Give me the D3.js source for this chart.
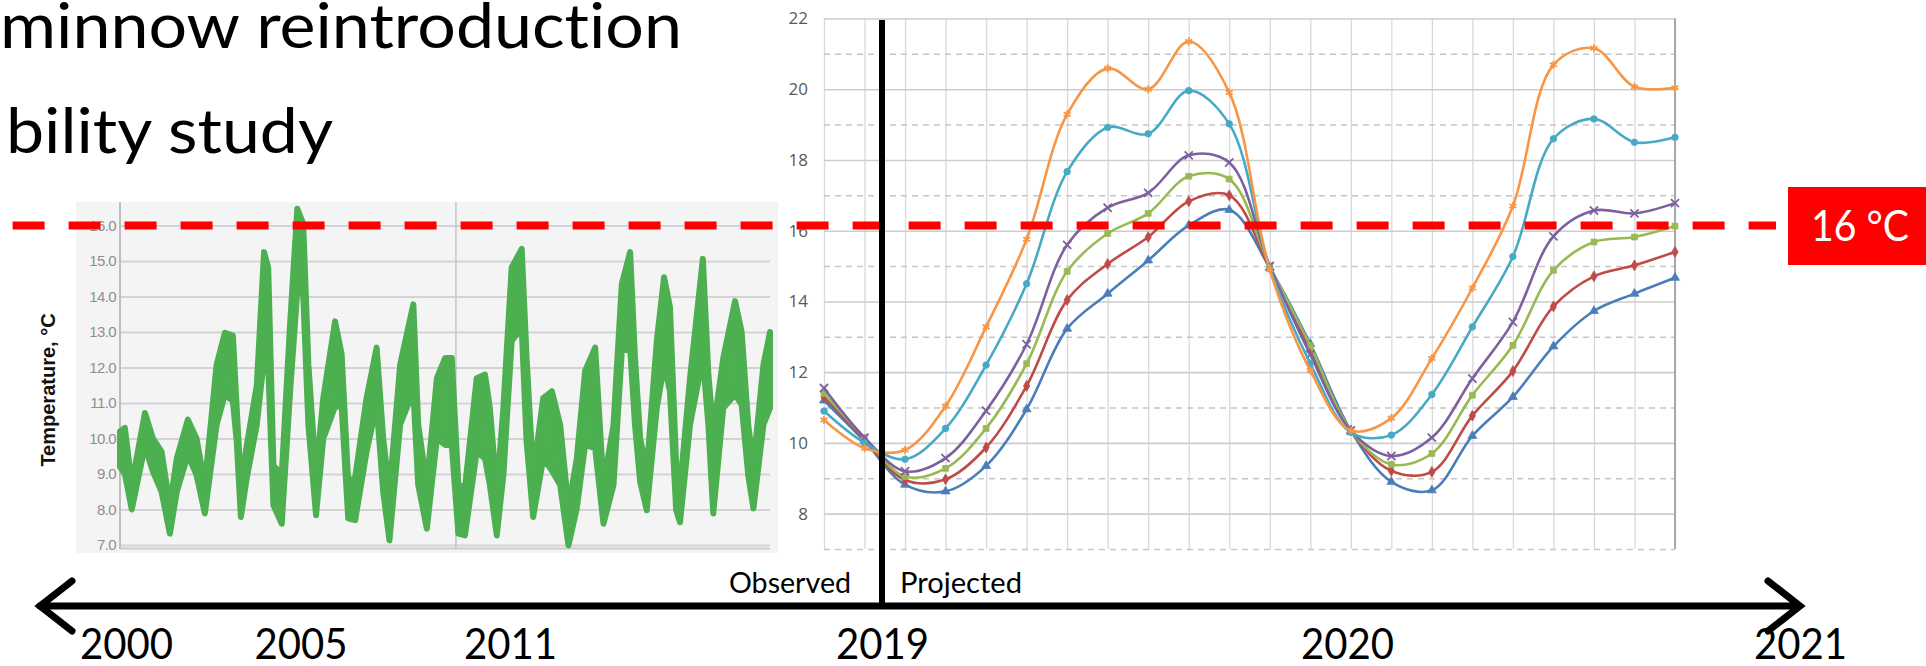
<!DOCTYPE html>
<html>
<head>
<meta charset="utf-8">
<script src="https://cdn.jsdelivr.net/npm/d3@7"></script>
<style>
  html, body { margin: 0; padding: 0; background: #fff; }
  svg { display: block; }
  text { font-variant-ligatures: none; font-feature-settings: "liga" 0; }
</style>
</head>
<body>
<svg id="chart" width="1926" height="666"></svg>
<script>
// ---------- data ----------
const titleLines = ["minnow reintroduction", "bility study"];
const timelineYears = [2000, 2005, 2011, 2019, 2020, 2021];
const threshold = 16;

// observed record (left panel): decimal year, upper and lower edge of the daily band
const obsYear = [2000.00, 2000.14, 2000.34, 2000.72, 2000.95, 2001.20, 2001.44, 2001.64, 2001.96, 2002.21,
  2002.45, 2002.79, 2003.03, 2003.26, 2003.37, 2003.49, 2003.66, 2003.95, 2004.16, 2004.28,
  2004.43, 2004.67, 2004.91, 2005.12, 2005.29, 2005.44, 2005.66, 2005.87, 2006.21, 2006.40,
  2006.59, 2006.79, 2007.12, 2007.41, 2007.60, 2007.78, 2008.09, 2008.47, 2008.61, 2008.86,
  2009.15, 2009.39, 2009.58, 2009.77, 2009.96, 2010.30, 2010.54, 2010.68, 2010.88, 2011.07,
  2011.31, 2011.60, 2011.74, 2011.93, 2012.22, 2012.47, 2012.71, 2012.95, 2013.19, 2013.43,
  2013.72, 2013.96, 2014.25, 2014.49, 2014.73, 2014.87, 2015.02, 2015.21, 2015.50, 2015.71,
  2015.88, 2016.06, 2016.17, 2016.46, 2016.83, 2016.99, 2017.13, 2017.42, 2017.76, 2017.95,
  2018.14, 2018.29, 2018.58, 2018.77];
const obsHigh = [10.2, 10.3, 8.7, 10.72, 10.0, 9.63, 8.1, 9.44, 10.53, 10.0,
  8.7, 12.08, 12.98, 12.9, 10.86, 8.69, 9.8, 11.5, 15.25, 14.8,
  9.25, 8.97, 13.2, 16.47, 16.05, 12.08, 8.97, 11.14, 13.3, 12.37,
  8.78, 8.9, 11.14, 12.56, 10.0, 8.5, 12.08, 13.78, 10.4, 8.69,
  11.7, 12.27, 12.27, 8.69, 8.6, 11.7, 11.8, 10.86, 8.5, 10.86,
  14.82, 15.34, 12.27, 8.97, 11.14, 11.33, 10.39, 8.03, 9.44, 11.9,
  12.56, 8.69, 10.39, 14.35, 15.25, 12.27, 10.0, 9.1, 12.75, 14.54,
  13.7, 9.25, 8.6, 11.7, 15.06, 11.8, 10.2, 12.27, 13.87, 13.0,
  10.39, 9.25, 12.08, 13.0];
const obsLow = [9.2, 9.0, 8.0, 9.8, 9.07, 8.5, 7.32, 8.5, 9.54, 8.97,
  7.89, 10.39, 11.24, 11.05, 9.92, 7.79, 8.88, 10.39, 12.27, 12.0,
  8.12, 7.6, 11.3, 14.16, 14.07, 10.39, 7.84, 10.0, 10.9, 10.9,
  7.75, 7.7, 9.63, 10.95, 8.5, 7.13, 10.4, 11.33, 8.7, 7.46,
  10.0, 9.82, 9.82, 7.32, 7.27, 9.63, 9.44, 8.69, 7.27, 8.97,
  12.75, 13.12, 9.92, 7.79, 9.44, 9.1, 8.69, 6.99, 8.03, 9.82,
  9.73, 7.6, 8.69, 12.46, 12.56, 10.39, 8.78, 7.98, 10.86, 12.08,
  11.33, 7.98, 7.64, 10.39, 12.27, 10.39, 7.89, 10.86, 11.24, 10.95,
  8.97, 8.03, 10.39, 10.86];
const obsTicks = [7, 8, 9, 10, 11, 12, 13, 14, 15, 16];

// projected scenarios (right panel), one value per month step
const projMonth = [0, 1, 2, 3, 4, 5, 6, 7, 8, 9, 10, 11, 12, 13, 14, 15, 16, 17, 18, 19, 20, 21];
const projTicks = [8, 10, 12, 14, 16, 18, 20, 22];
const projMinorTicks = [7, 9, 11, 13, 15, 17, 19, 21];
const projBlue   = [11.2, 10.05, 8.82, 8.63, 9.35, 10.95, 13.23, 14.22, 15.16, 16.15, 16.59, 14.95, 12.8, 10.35, 8.9, 8.66, 10.2, 11.3, 12.73, 13.73, 14.22, 14.67];
const projRed    = [11.3, 10.1, 8.95, 8.97, 9.87, 11.61, 14.04, 15.06, 15.82, 16.83, 17.0, 14.95, 12.6, 10.35, 9.21, 9.18, 10.77, 12.03, 13.86, 14.71, 15.02, 15.4];
const projGreen  = [11.4, 10.15, 9.05, 9.28, 10.41, 12.24, 14.85, 15.92, 16.49, 17.54, 17.46, 15.0, 12.75, 10.35, 9.39, 9.7, 11.35, 12.76, 14.88, 15.68, 15.82, 16.13];
const projPurple = [11.55, 10.15, 9.2, 9.57, 10.91, 12.79, 15.6, 16.65, 17.07, 18.13, 17.93, 15.0, 12.5, 10.35, 9.63, 10.15, 11.82, 13.42, 15.84, 16.57, 16.49, 16.78];
const projCyan   = [10.9, 10.0, 9.54, 10.41, 12.2, 14.5, 17.67, 18.92, 18.74, 19.96, 19.02, 14.95, 12.25, 10.3, 10.22, 11.37, 13.28, 15.27, 18.6, 19.16, 18.5, 18.64];
const projOrange = [10.65, 9.85, 9.8, 11.04, 13.28, 15.76, 19.29, 20.59, 20.0, 21.35, 19.91, 14.9, 12.05, 10.35, 10.7, 12.39, 14.38, 16.7, 20.69, 21.16, 20.07, 20.04];

// ---------- drawing ----------
const svg = d3.select("#chart");
const sans = "Lato, 'Open Sans', sans-serif";
const arial = "'Liberation Sans', Arial, sans-serif";

// scales
const timeX = d3.scaleLinear()
    .domain([2000, 2011, 2019, 2020, 2021])
    .range([126, 510, 882, 1347, 1800]);

const obsX = d3.scaleLinear().domain([2000, 2019]).range([120, 778]);
const obsY = d3.scaleLinear().domain([7, 16]).range([545, 225.5]);

const projX = d3.scaleLinear().domain([0, 21]).range([824, 1675]);
const projY = d3.scaleLinear().domain([7, 22]).range([549, 18.5]);

// title (cropped slide text)
const title = svg.append("g").attr("font-family", sans).attr("fill", "#000").attr("font-size", 62);
title.append("text").attr("x", 0).attr("y", 48)
    .attr("textLength", 682).attr("lengthAdjust", "spacingAndGlyphs").text(titleLines[0]);
title.append("text").attr("x", 6).attr("y", 153)
    .attr("textLength", 327).attr("lengthAdjust", "spacingAndGlyphs").text(titleLines[1]);

// ----- right panel: projections -----
const right = svg.append("g");

right.append("g")
    .attr("transform", "translate(0," + projY(7) + ")")
    .call(d3.axisBottom(projX).tickValues(projMonth).tickSize(-(projY(7) - projY(22))).tickFormat(""))
    .call(g => g.select(".domain").remove())
    .selectAll("line").attr("stroke", "#d9d9d9").attr("stroke-width", 1.3);

right.append("g")
    .attr("transform", "translate(" + projX(0) + ",0)")
    .call(d3.axisLeft(projY).tickValues(projMinorTicks).tickSize(-(projX(21) - projX(0))).tickFormat(""))
    .call(g => g.select(".domain").remove())
    .selectAll("line").attr("stroke", "#c6c6c6").attr("stroke-width", 1.5).attr("stroke-dasharray", "6,5");

right.append("g")
    .attr("transform", "translate(" + projX(0) + ",0)")
    .call(d3.axisLeft(projY).tickValues(projTicks).tickSize(-(projX(21) - projX(0))).tickFormat(""))
    .call(g => g.select(".domain").remove())
    .selectAll("line").attr("stroke", "#cdcdcd").attr("stroke-width", 1.6);

right.append("line")
    .attr("x1", projX(21)).attr("x2", projX(21))
    .attr("y1", projY(22)).attr("y2", projY(7))
    .attr("stroke", "#a9a9a9").attr("stroke-width", 2);

const yLabels = right.append("g")
    .attr("transform", "translate(" + (projX(0) - 12) + ",0)")
    .call(d3.axisLeft(projY).tickValues(projTicks).tickSize(0).tickPadding(4))
    .call(g => g.select(".domain").remove());
yLabels.attr("font-family", "'Open Sans', sans-serif").attr("font-size", 17);
yLabels.selectAll("text").attr("fill", "#595959");

const series = [
    { values: projBlue,   color: "#4a7ebb", symbol: d3.symbolTriangle, stroke: false },
    { values: projRed,    color: "#be4b48", symbol: d3.symbolDiamond,  stroke: false },
    { values: projGreen,  color: "#98b954", symbol: d3.symbolSquare,   stroke: false },
    { values: projPurple, color: "#7d60a0", symbol: d3.symbolTimes || d3.symbolCross, stroke: true },
    { values: projCyan,   color: "#46aac5", symbol: d3.symbolCircle,   stroke: false },
    { values: projOrange, color: "#f79646", symbol: d3.symbolAsterisk || d3.symbolCross, stroke: true }
];

const projLine = d3.line()
    .x((d, i) => projX(projMonth[i]))
    .y(d => projY(d))
    .curve(d3.curveCatmullRom.alpha(0.5));

series.forEach(s => {
    right.append("path")
        .datum(s.values)
        .attr("d", projLine)
        .attr("fill", "none")
        .attr("stroke", s.color)
        .attr("stroke-width", 2.6);

    right.selectAll(null)
        .data(s.values)
        .join("path")
        .attr("transform", (d, i) => "translate(" + projX(projMonth[i]) + "," + projY(d) + ")")
        .attr("d", d3.symbol().type(s.symbol).size(s.stroke ? 45 : 34))
        .attr("fill", s.stroke ? "none" : s.color)
        .attr("stroke", s.color)
        .attr("stroke-width", s.stroke ? 1.8 : 0.8);
});

// ----- left panel: observed record -----
const left = svg.append("g");

left.append("rect")
    .attr("x", 76).attr("y", 202)
    .attr("width", 702).attr("height", 351)
    .attr("fill", "#f4f4f4");

left.append("g")
    .attr("transform", "translate(" + obsX(2000) + ",0)")
    .call(d3.axisLeft(obsY).tickValues(obsTicks).tickSize(-650).tickFormat(""))
    .call(g => g.select(".domain").remove())
    .selectAll("line").attr("stroke", "#d3d3d3").attr("stroke-width", 2);

left.append("line")
    .attr("x1", obsX(2000)).attr("x2", obsX(2000) + 650)
    .attr("y1", obsY(7) + 3.5).attr("y2", obsY(7) + 3.5)
    .attr("stroke", "#cbcbcb").attr("stroke-width", 2);

left.append("line")
    .attr("x1", obsX(2009.7)).attr("x2", obsX(2009.7))
    .attr("y1", 202).attr("y2", obsY(7) + 4)
    .attr("stroke", "#c4c4c4").attr("stroke-width", 1.5);

left.append("line")
    .attr("x1", obsX(2000)).attr("x2", obsX(2000))
    .attr("y1", 202).attr("y2", obsY(7) + 4)
    .attr("stroke", "#bdbdbd").attr("stroke-width", 2);

const obsLabels = left.append("g")
    .attr("transform", "translate(" + obsX(2000) + ",0)")
    .call(d3.axisLeft(obsY).tickValues(obsTicks).tickSize(0).tickPadding(4).tickFormat(d3.format(".1f")))
    .call(g => g.select(".domain").remove());
obsLabels.attr("font-family", arial).attr("font-size", 15);
obsLabels.selectAll("text").attr("fill", "#8e8e8e").attr("letter-spacing", -0.6);

left.append("text")
    .attr("transform", "translate(55,390) rotate(-90)")
    .attr("text-anchor", "middle")
    .attr("font-family", arial)
    .attr("font-weight", "bold")
    .attr("font-size", 20)
    .attr("fill", "#111")
    .text("Temperature, °C");

const obsArea = d3.area()
    .x((d, i) => obsX(obsYear[i]))
    .y0((d, i) => obsY(obsLow[i]))
    .y1((d, i) => obsY(obsHigh[i]));

left.append("path")
    .datum(obsYear)
    .attr("d", obsArea)
    .attr("fill", "#4caf50")
    .attr("stroke", "#4caf50")
    .attr("stroke-width", 6)
    .attr("stroke-linejoin", "round");

// ----- threshold -----
svg.append("line")
    .attr("x1", 12.6).attr("x2", 1776)
    .attr("y1", obsY(threshold)).attr("y2", obsY(threshold))
    .attr("stroke", "#ff0000")
    .attr("stroke-width", 8)
    .attr("stroke-dasharray", "32,24");

svg.append("rect")
    .attr("x", 1788).attr("y", 187)
    .attr("width", 138).attr("height", 78)
    .attr("fill", "#ff0000");

svg.append("text")
    .attr("x", 1811).attr("y", 241)
    .attr("font-family", sans).attr("font-size", 42)
    .attr("fill", "#fff")
    .attr("textLength", 98).attr("lengthAdjust", "spacingAndGlyphs")
    .text(threshold + " °C");

// ----- timeline -----
const axisY = 606;
const splitX = timeX(2019);

svg.append("line")
    .attr("x1", splitX).attr("x2", splitX)
    .attr("y1", 20).attr("y2", axisY)
    .attr("stroke", "#000").attr("stroke-width", 6);

svg.append("text")
    .attr("x", splitX - 31).attr("y", 593)
    .attr("text-anchor", "end")
    .attr("font-family", sans).attr("font-size", 29)
    .attr("textLength", 122).attr("lengthAdjust", "spacingAndGlyphs")
    .text("Observed");

svg.append("text")
    .attr("x", splitX + 18).attr("y", 593)
    .attr("font-family", sans).attr("font-size", 29)
    .attr("textLength", 122).attr("lengthAdjust", "spacingAndGlyphs")
    .text("Projected");

const arrow = svg.append("g")
    .attr("stroke", "#000").attr("stroke-width", 7).attr("fill", "none")
    .attr("stroke-linecap", "round");
arrow.append("line").attr("x1", 40).attr("x2", 1798).attr("y1", axisY).attr("y2", axisY);
arrow.append("path").attr("d", "M72," + (axisY - 25) + "L40," + axisY + "L72," + (axisY + 25));
arrow.append("path").attr("d", "M1768," + (axisY - 25) + "L1800," + axisY + "L1768," + (axisY + 25));

const timeAxis = svg.append("g")
    .attr("transform", "translate(0," + axisY + ")")
    .call(d3.axisBottom(timeX).tickValues(timelineYears).tickSize(0).tickFormat(d3.format("d")))
    .call(g => g.select(".domain").remove());
timeAxis.attr("font-family", sans).attr("font-size", 43);
timeAxis.selectAll("text")
    .attr("y", 53).attr("dy", 0)
    .attr("fill", "#000")
    .attr("textLength", 93).attr("lengthAdjust", "spacingAndGlyphs");
</script>
</body>
</html>
